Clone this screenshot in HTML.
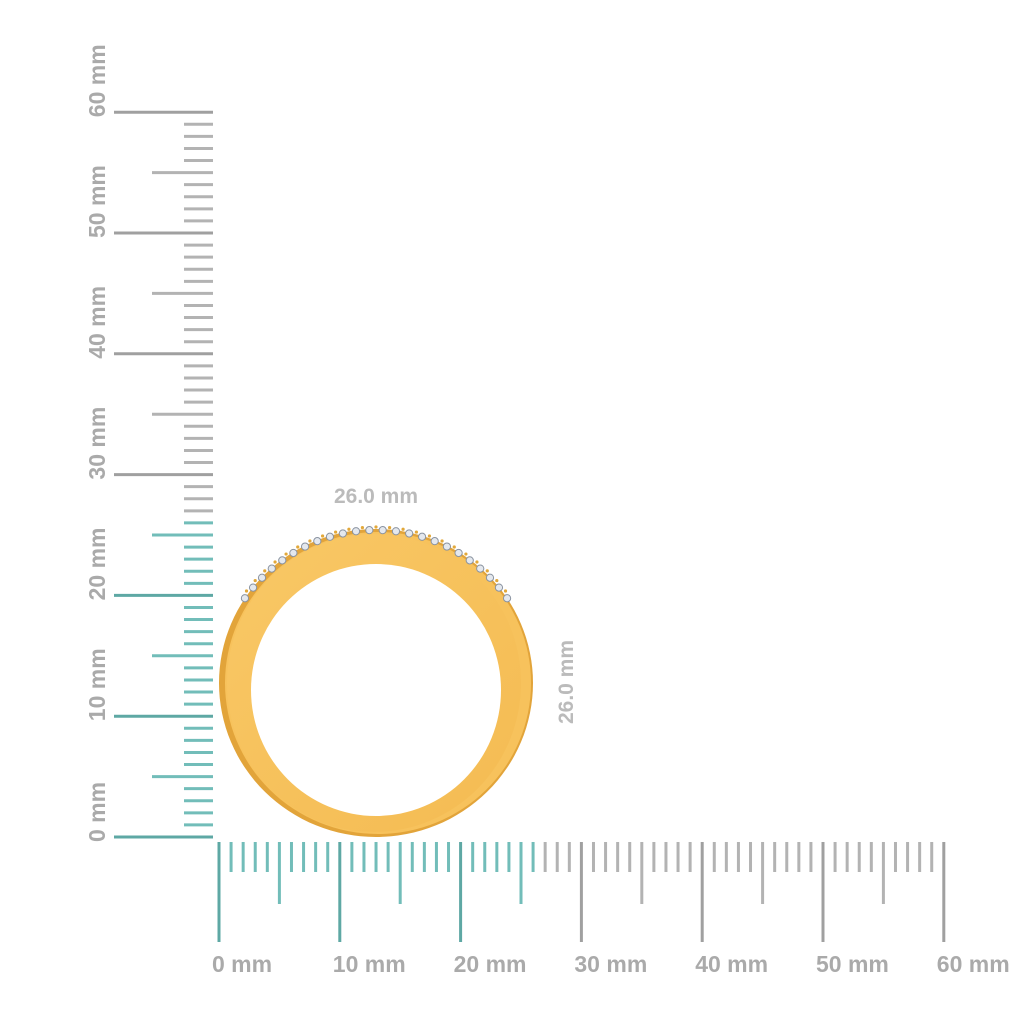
<!DOCTYPE html>
<html><head><meta charset="utf-8"><style>
html,body{margin:0;padding:0;background:#fff;}
svg{display:block;}
text{font-family:"Liberation Sans",sans-serif;font-weight:bold;fill:#aaaaaa;}
</style></head><body>
<svg id="s" width="1024" height="1024" viewBox="0 0 1024 1024" xmlns="http://www.w3.org/2000/svg">
<defs>
<linearGradient id="g" x1="0" y1="0" x2="1" y2="1">
<stop offset="0" stop-color="#f9c866"/><stop offset="1" stop-color="#f4bb52"/>
</linearGradient>
</defs>
<g id="ticks"></g>
<g id="labels"></g>
<ellipse cx="376" cy="683" rx="157" ry="154" fill="#e2a43a"/>
<ellipse cx="378" cy="683" rx="153" ry="151" fill="#f7c25c"/>
<ellipse cx="374" cy="683" rx="147" ry="149" fill="url(#g)"/>
<ellipse cx="376" cy="690" rx="125" ry="126" fill="#fff"/>
<g id="dia"></g>
<text x="376" y="503" text-anchor="middle" font-size="21" style="fill:#bbbbbb">26.0 mm</text>
<text transform="translate(573,682) rotate(-90)" text-anchor="middle" font-size="21" style="fill:#bbbbbb">26.0 mm</text>
</svg>
<script>
var ns="http://www.w3.org/2000/svg";
function el(p,t,a){var e=document.createElementNS(ns,t);for(var k in a)e.setAttribute(k,a[k]);p.appendChild(e);return e;}
var T=document.getElementById("ticks"),L=document.getElementById("labels"),D=document.getElementById("dia");
var s=12.08,teal="#72bdb9",gray="#b3b3b3",tealD="#5ea8a4",grayD="#a0a0a0";
for(var i=0;i<=60;i++){
 var y=837-i*s,x=219+i*s,isT=i<=26;
 var maj=i%10==0,half=i%5==0;
 var c=maj?(isT?tealD:grayD):(isT?teal:gray);
 var x0=maj?114:(half?152:184);
 el(T,"line",{x1:x0,y1:y,x2:213,y2:y,stroke:c,"stroke-width":3});
 var y1=maj?942:(half?904:872);
 el(T,"line",{x1:x,y1:842,x2:x,y2:y1,stroke:c,"stroke-width":3});
 if(maj){
  var t=el(L,"text",{x:x-7,y:972,"font-size":23});t.textContent=i+" mm";
  var t2=el(L,"text",{transform:"translate(105,"+(y+5)+") rotate(-90)","font-size":23});t2.textContent=i+" mm";
 }
}
var cx=376,cy=690,r=160,n=24;
for(var k=0;k<n;k++){
 var a=(-145+k*(110/(n-1)))*Math.PI/180;
 var px=cx+r*Math.cos(a),py=cy+r*Math.sin(a);
 el(D,"circle",{cx:px,cy:py,r:3.6,fill:"#e4e8ee",stroke:"#8a93a0","stroke-width":1});
 if(k<n-1){var b=a+(110/(2*(n-1)))*Math.PI/180;el(D,"circle",{cx:cx+(r+3)*Math.cos(b),cy:cy+(r+3)*Math.sin(b),r:1.6,fill:"#e2a83a"});}
}
</script>
</body></html>
